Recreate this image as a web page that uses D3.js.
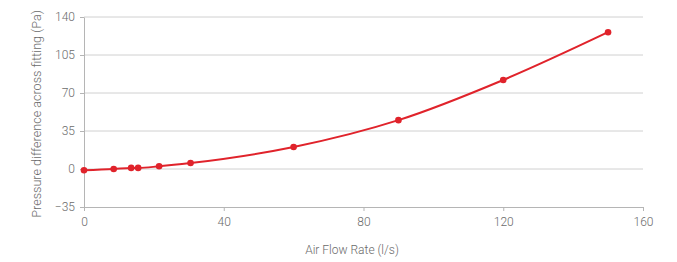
<!DOCTYPE html>
<html>
<head>
<meta charset="utf-8">
<script src="https://cdn.jsdelivr.net/npm/d3@7"></script>
<style>
  body { margin: 0; background: #fff; }
  svg text { font-family: Roboto, "Liberation Sans", sans-serif; font-weight: 300; fill: #6b6b6b; }
</style>
</head>
<body>
<svg id="chart" width="677" height="262"></svg>
<script>
// air flow (l/s) vs pressure difference (Pa)
const flow = [0, 8.5, 13.5, 15.5, 21.5, 30.5, 60, 90, 120, 150];
const pressure = [-1.2, 0, 1, 1, 2.5, 5.5, 20.3, 45, 82, 126];
const xTicks = [0, 40, 80, 120, 160];
const yTicks = [-35, 0, 35, 70, 105, 140];

const svg = d3.select("#chart");
const margin = { left: 84, right: 34, top: 17, bottom: 55 };
const width = 677, height = 262;

const x = d3.scaleLinear().domain([0, 160]).range([margin.left, width - margin.right]);
const y = d3.scaleLinear().domain([-35, 140]).range([height - margin.bottom, margin.top]);

// grid lines
svg.append("g")
  .selectAll("line")
  .data(yTicks.filter(d => d > -35))
  .join("line")
  .attr("x1", x(0)).attr("x2", x(160))
  .attr("y1", d => y(d)).attr("y2", d => y(d))
  .attr("stroke", "#d0d0d0")
  .attr("stroke-width", 1);

// x axis
const xAxis = svg.append("g")
  .attr("transform", `translate(0,${y(-35)})`)
  .call(d3.axisBottom(x).tickValues(xTicks).tickSize(4).tickPadding(6).tickSizeOuter(0));

// y axis
const yAxis = svg.append("g")
  .attr("transform", `translate(${x(0)},0)`)
  .call(d3.axisLeft(y).tickValues(yTicks).tickSize(4).tickPadding(5).tickSizeOuter(0));

[xAxis, yAxis].forEach(g => {
  g.select(".domain").attr("stroke", "#b5b5b5");
  g.selectAll(".tick line").attr("stroke", "#b5b5b5");
  g.selectAll(".tick text")
    .style("font-family", "Roboto, 'Liberation Sans', sans-serif")
    .style("font-weight", 300)
    .style("font-size", "12px")
    .attr("fill", "#6b6b6b");
});

// axis titles
svg.append("text")
  .attr("x", 352).attr("y", 254)
  .attr("text-anchor", "middle")
  .style("font-size", "12px")
  .text("Air Flow Rate (l/s)");

svg.append("text")
  .attr("transform", `translate(41,${(y(-35) + y(140)) / 2 + 2}) rotate(-90)`)
  .attr("text-anchor", "middle")
  .style("font-size", "12.6px")
  .text("Pressure difference across fitting (Pa)");

// line + points
const pts = flow.map((f, i) => [f, pressure[i]]);
const line = d3.line()
  .x(d => x(d[0]))
  .y(d => y(d[1]))
  .curve(d3.curveMonotoneX);

svg.append("path")
  .datum(pts)
  .attr("d", line)
  .attr("fill", "none")
  .attr("stroke", "#e0232b")
  .attr("stroke-width", 2);

svg.append("g")
  .selectAll("circle")
  .data(pts)
  .join("circle")
  .attr("cx", d => x(d[0]))
  .attr("cy", d => y(d[1]))
  .attr("r", 3.3)
  .attr("fill", "#e0232b");
</script>
</body>
</html>
